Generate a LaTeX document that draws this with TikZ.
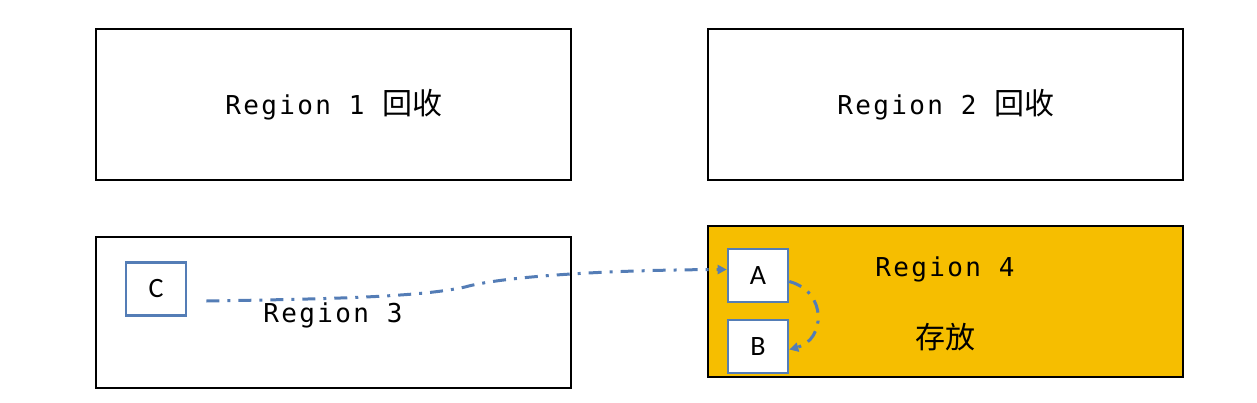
\documentclass[tikz,border=0pt]{standalone}
\usepackage{fontspec}
\setmainfont{DejaVu Sans Mono}[LetterSpace=9]
\newfontfamily\cjkfont{Noto Sans CJK SC}
\newfontfamily\lblfont{Carlito}
\usetikzlibrary{arrows.meta}
\definecolor{linkblue}{RGB}{84,125,182}
\definecolor{regorange}{RGB}{246,190,0}
\tikzset{
  region/.style={draw=black, line width=2.8pt, minimum width=475pt, minimum height=151pt, inner sep=0pt},
  objbox/.style={draw=linkblue, fill=white, line width=2.6pt, minimum width=60pt, minimum height=53pt, inner sep=0pt, font=\lblfont\fontsize{28}{28}\selectfont},
  rtext/.style={font=\fontsize{26}{26}\selectfont, inner sep=0pt},
  ctext/.style={font=\cjkfont\fontsize{30}{30}\selectfont, inner sep=0pt},
  link/.style={draw=linkblue, line width=3pt, dash pattern=on 13pt off 8pt on 3pt off 8pt, -{Triangle[length=9pt,width=9pt]}}
}
\begin{document}
\begin{tikzpicture}[x=1pt,y=-1pt]
\useasboundingbox (0,0) rectangle (1257,402);
\node[region] (r1) at (333.5,104.5) {};
\node[region] (r2) at (945.5,104.5) {};
\node[region] (r3) at (333.5,312.5) {};
\node[region, fill=regorange] (r4) at (945.5,301.5) {};
\node[rtext, anchor=base] (t1) at (334,114) {Region 1 {\cjkfont\fontsize{30}{30}\selectfont 回收}};
\node[rtext, anchor=base] (t2) at (946,114) {Region 2 {\cjkfont\fontsize{30}{30}\selectfont 回收}};
\node[rtext, anchor=base] (t3) at (333,322) {Region 3};
\node[rtext, anchor=base] (t4) at (945,276) {Region 4};
\node[ctext, anchor=base] (c4) at (945,348) {存放};
\node[objbox] (C) at (156,289) {C};
\node[objbox] (A) at (758,275.5) {A};
\node[objbox] (B) at (758,346.5) {B};
\draw[link] ([shift={(19,12)}]C.east) .. controls (330,299) and (420,297) .. (465,287)
  .. controls (500,277) and (600,270) .. ([yshift=6pt]A.west);
\draw[link] ([yshift=-6pt]A.east) .. controls (828,292) and (825,340) .. ([yshift=-3pt]B.east);
\end{tikzpicture}
\end{document}
